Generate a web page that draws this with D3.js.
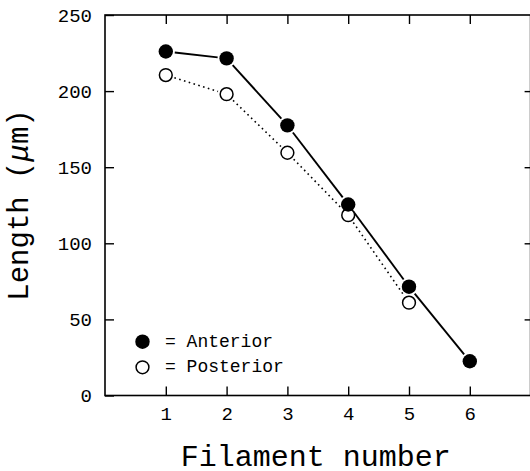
<!DOCTYPE html>
<html>
<head>
<meta charset="utf-8">
<script src="https://cdn.jsdelivr.net/npm/d3@7"></script>
<style>
  html, body { margin: 0; padding: 0; background: #fff; }
  svg { display: block; }
  text { font-family: "Courier New", "Liberation Mono", monospace; fill: #000; }
</style>
</head>
<body>
<svg id="chart" width="530" height="471"></svg>
<script>
const filaments = [1, 2, 3, 4, 5, 6];
const anterior = [226, 221.5, 177.5, 125.5, 71.5, 22.5];
const posteriorFilaments = [1, 2, 3, 4, 5];
const posterior = [210.5, 198, 159.5, 118.5, 61];
const yTicks = [0, 50, 100, 150, 200, 250];
const xTicks = [1, 2, 3, 4, 5, 6];
const legendLabels = ["= Anterior", "= Posterior"];
const xTitle = "Filament number";

const svg = d3.select("#chart");
const mLeft = 105, mRight = 530.6, mTop = 15, mBottom = 395.5;
const x = d3.scaleLinear().domain([0, 7]).range([mLeft, mRight]);
const y = d3.scaleLinear().domain([0, 250]).range([mBottom, mTop]);

// frame
svg.append("rect")
  .attr("x", mLeft).attr("y", mTop)
  .attr("width", mRight - mLeft).attr("height", mBottom - mTop)
  .attr("fill", "none").attr("stroke", "#000").attr("stroke-width", 1.6);

// bottom axis with inward ticks
const xb = svg.append("g").attr("transform", `translate(0,${mBottom})`)
  .call(d3.axisBottom(x).tickValues(xTicks).tickSize(-9).tickPadding(11).tickFormat(d3.format("d")));
xb.select(".domain").remove();
xb.selectAll("line").attr("stroke-width", 1.4);
xb.selectAll("text").style("font-size", "19px");
xb.attr("font-family", null);

// top axis ticks
const xt = svg.append("g").attr("transform", `translate(0,${mTop})`)
  .call(d3.axisTop(x).tickValues(xTicks).tickSize(-9).tickFormat(""));
xt.select(".domain").remove();
xt.selectAll("line").attr("stroke-width", 1.4);

// left axis
const yl = svg.append("g").attr("transform", `translate(${mLeft},0)`)
  .call(d3.axisLeft(y).tickValues(yTicks).tickSize(-9).tickPadding(13).tickFormat(d3.format("d")));
yl.select(".domain").remove();
yl.selectAll("line").attr("stroke-width", 1.4);
yl.selectAll("text").style("font-size", "19px");
yl.attr("font-family", null);

// right axis ticks
const yr = svg.append("g").attr("transform", `translate(${mRight},0)`)
  .call(d3.axisRight(y).tickValues(yTicks.slice(1, -1)).tickSize(-6).tickFormat(""));
yr.select(".domain").remove();
yr.selectAll("line").attr("stroke-width", 1.4);

// connecting segments with gaps around markers
function segments(xs, ys, gap) {
  const pts = xs.map((d, i) => [x(d), y(ys[i])]);
  const segs = [];
  for (let i = 0; i < pts.length - 1; i++) {
    const [x1, y1] = pts[i], [x2, y2] = pts[i + 1];
    const dx = x2 - x1, dy = y2 - y1, L = Math.hypot(dx, dy);
    const ux = dx / L, uy = dy / L;
    segs.push([x1 + ux * gap, y1 + uy * gap, x2 - ux * gap, y2 - uy * gap]);
  }
  return segs;
}

svg.append("g").selectAll("line")
  .data(segments(posteriorFilaments, posterior, 9))
  .join("line")
  .attr("x1", d => d[0]).attr("y1", d => d[1])
  .attr("x2", d => d[2]).attr("y2", d => d[3])
  .attr("stroke", "#000").attr("stroke-width", 1.6)
  .attr("stroke-dasharray", "1.6,3.4");

svg.append("g").selectAll("line")
  .data(segments(filaments, anterior, 9))
  .join("line")
  .attr("x1", d => d[0]).attr("y1", d => d[1])
  .attr("x2", d => d[2]).attr("y2", d => d[3])
  .attr("stroke", "#000").attr("stroke-width", 1.9);

// markers
svg.append("g").selectAll("circle")
  .data(posteriorFilaments.map((d, i) => [d, posterior[i]]))
  .join("circle")
  .attr("cx", d => x(d[0])).attr("cy", d => y(d[1])).attr("r", 6.4)
  .attr("fill", "#fff").attr("stroke", "#000").attr("stroke-width", 1.5);

svg.append("g").selectAll("circle")
  .data(filaments.map((d, i) => [d, anterior[i]]))
  .join("circle")
  .attr("cx", d => x(d[0])).attr("cy", d => y(d[1])).attr("r", 7.2)
  .attr("fill", "#000");

// legend
const lg = svg.append("g");
lg.append("circle").attr("cx", 142.5).attr("cy", 341.7).attr("r", 7.2).attr("fill", "#000");
lg.append("circle").attr("cx", 142.5).attr("cy", 367.3).attr("r", 6.4)
  .attr("fill", "#fff").attr("stroke", "#000").attr("stroke-width", 1.5);
lg.selectAll("text").data(legendLabels).join("text")
  .attr("x", 165).attr("y", (d, i) => 347 + i * 25.3)
  .style("font-size", "18px")
  .attr("xml:space", "preserve")
  .text(d => d);

// axis titles
svg.append("text")
  .attr("x", (mLeft + mRight) / 2 - 2).attr("y", 466)
  .attr("text-anchor", "middle")
  .style("font-size", "30px")
  .text(xTitle);

const yt = svg.append("text")
  .attr("transform", "translate(28,205) rotate(-90)")
  .attr("text-anchor", "middle")
  .style("font-size", "29px");
yt.append("tspan").text("Length (");
yt.append("tspan").style("font-style", "italic").text("\u03bc");
yt.append("tspan").text("m)");
</script>
</body>
</html>
